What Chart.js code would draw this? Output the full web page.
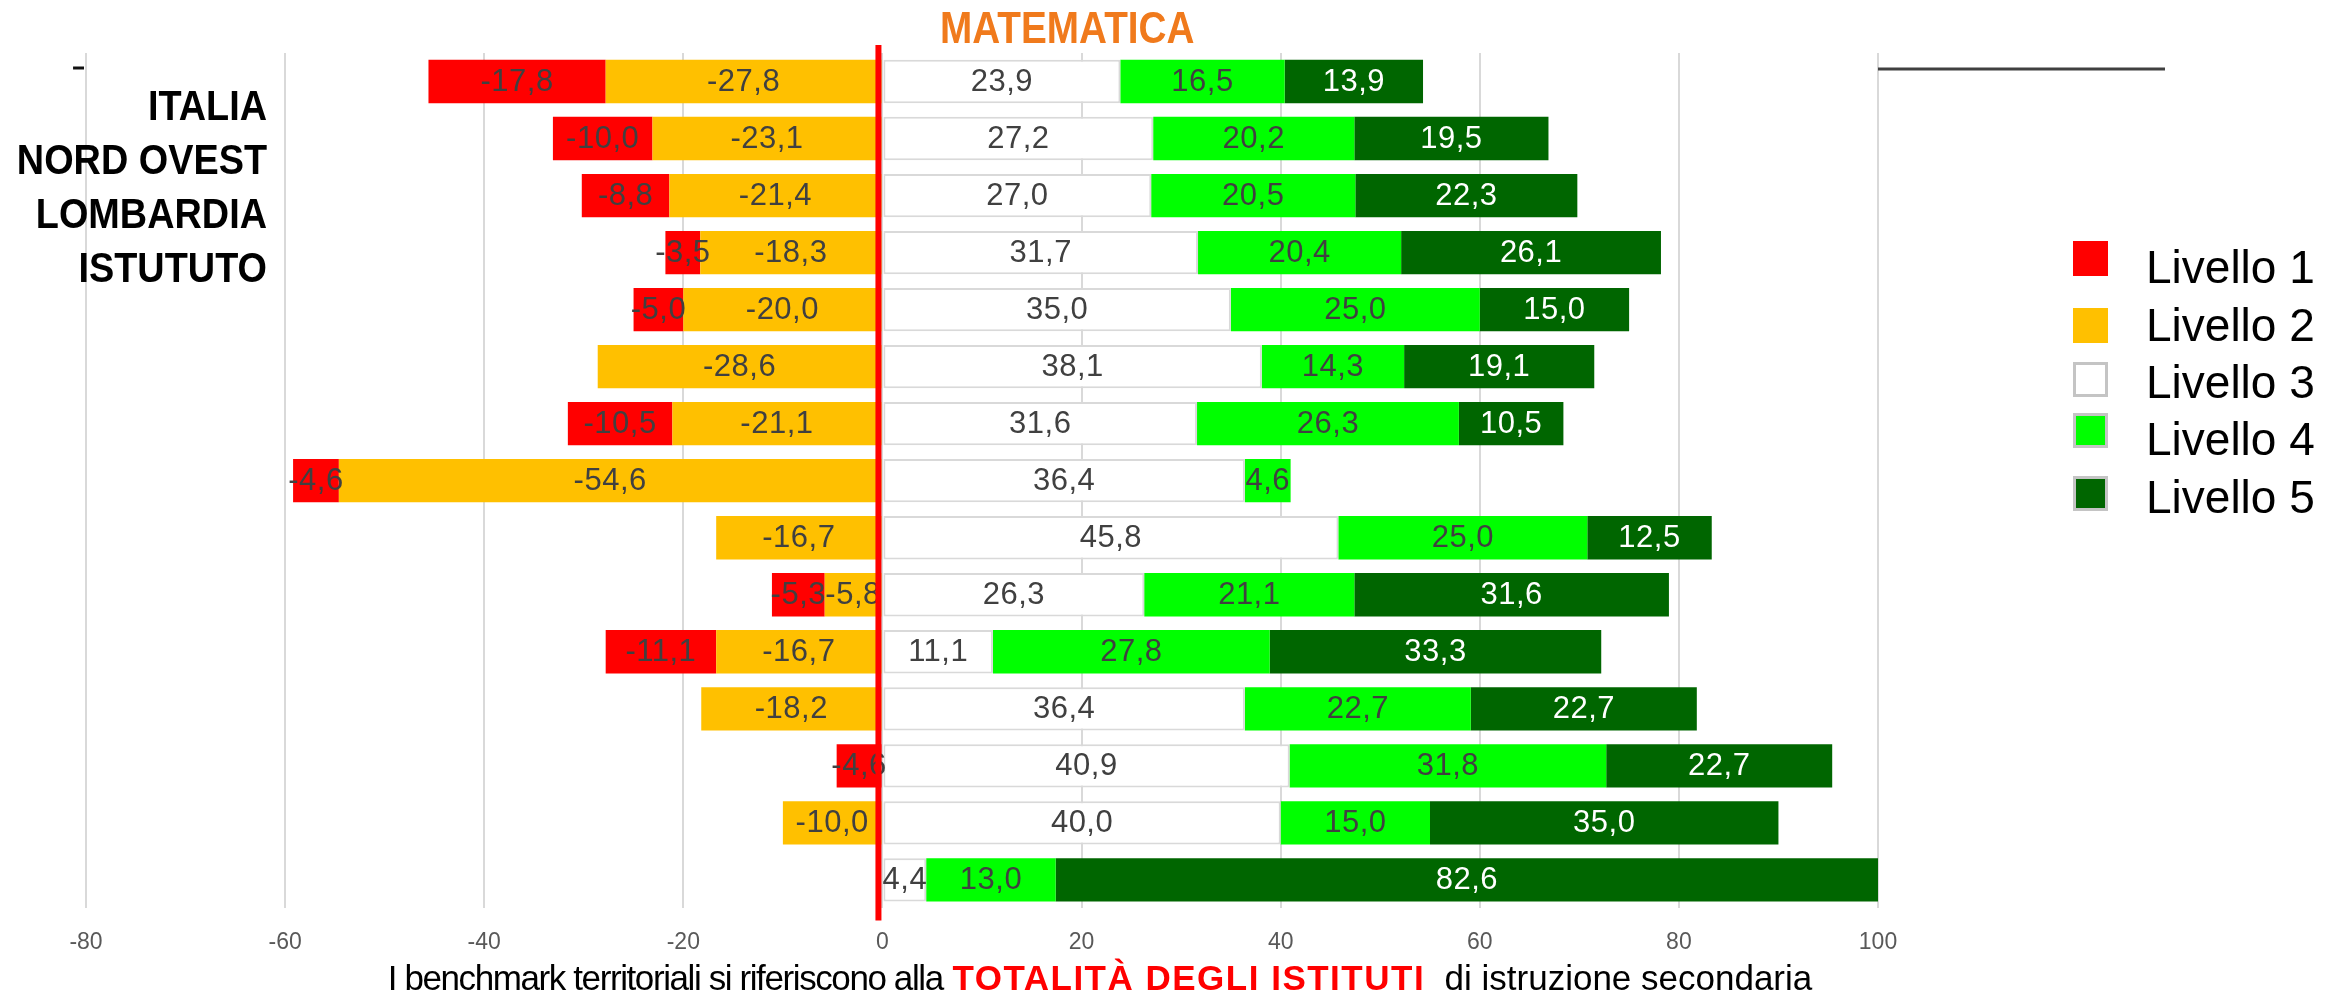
<!DOCTYPE html>
<html>
<head>
<meta charset="utf-8">
<script src="https://cdn.jsdelivr.net/npm/chart.js@4.4.1/dist/chart.umd.min.js"></script>
<style>
  body { margin: 0; background: #fff; font-family: "Liberation Sans", Arial, sans-serif; }
  #wrap { position: relative; width: 2333px; height: 996px; overflow: hidden; }
  #chart { position: absolute; left: 0; top: 0; }
  .txt { position: absolute; white-space: nowrap; line-height: 1; }
  #title { left: 940px; top: 6px; font-size: 44px; font-weight: bold; color: #f07a1c; transform: scaleX(0.88); transform-origin: left; }
  .area { left: -233px; width: 500px; text-align: right; font-size: 43px; font-weight: bold; color: #000; transform: scaleX(0.88); transform-origin: right; }
  #footer { left: 0; width: 2200px; text-align: center; top: 960px; font-size: 35px; color: #000; }
  #footer .lo { letter-spacing: -1.4px; }
  #footer .red { color: #ff0000; font-weight: bold; letter-spacing: 1.5px; }
  .leg-box { position: absolute; left: 2073px; width: 35px; height: 35px; box-sizing: border-box; }
  .leg-txt { left: 2146px; font-size: 46px; color: #000; }
</style>
</head>
<body>
<div id="wrap">
  <canvas id="chart" width="2333" height="996"></canvas>
  <div class="txt" id="title">MATEMATICA</div>
  <div class="txt area" style="top:84px">ITALIA</div>
  <div class="txt area" style="top:138px">NORD OVEST</div>
  <div class="txt area" style="top:192px">LOMBARDIA</div>
  <div class="txt area" style="top:246px">ISTUTUTO</div>
  <div id="legend"></div>
  <div class="txt" id="footer"><span class="lo">I benchmark territoriali si riferiscono alla</span> <span class="red">TOTALITÀ DEGLI ISTITUTI</span>&nbsp; di istruzione secondaria</div>
</div>
<script>
// Rows from top to bottom
const categories = ['1', '2', '3', '4', '5', '6', '7', '8', '9', '10', '11', '12', '13', '14', '15'];

const livello1 = [-17.8, -10.0, -8.8, -3.5, -5.0, 0, -10.5, -4.6, 0, -5.3, -11.1, 0, -4.6, 0, 0];
const livello2 = [-27.8, -23.1, -21.4, -18.3, -20.0, -28.6, -21.1, -54.6, -16.7, -5.8, -16.7, -18.2, 0, -10.0, 0];
const livello3 = [23.9, 27.2, 27.0, 31.7, 35.0, 38.1, 31.6, 36.4, 45.8, 26.3, 11.1, 36.4, 40.9, 40.0, 4.4];
const livello4 = [16.5, 20.2, 20.5, 20.4, 25.0, 14.3, 26.3, 4.6, 25.0, 21.1, 27.8, 22.7, 31.8, 15.0, 13.0];
const livello5 = [13.9, 19.5, 22.3, 26.1, 15.0, 19.1, 10.5, 0, 12.5, 31.6, 33.3, 22.7, 22.7, 35.0, 82.6];

const seriesNames = ['Livello 1', 'Livello 2', 'Livello 3', 'Livello 4', 'Livello 5'];
const xTicks = [-80, -60, -40, -20, 0, 20, 40, 60, 80, 100];

const colors = {
  'Livello 1': '#ff0000',
  'Livello 2': '#ffc000',
  'Livello 3': '#ffffff',
  'Livello 4': '#00ff00',
  'Livello 5': '#006600'
};

// HTML legend
const legendTops = [241, 308, 362, 413, 476];
const legendTextTops = [244, 302, 359, 416, 474];
const legendEl = document.getElementById('legend');
seriesNames.forEach((name, i) => {
  const box = document.createElement('div');
  box.className = 'leg-box';
  box.style.top = legendTops[i] + 'px';
  box.style.background = colors[name];
  if (i >= 2) box.style.border = '3px solid #c4c4c4';
  legendEl.appendChild(box);
  const t = document.createElement('div');
  t.className = 'txt leg-txt';
  t.style.top = legendTextTops[i] + 'px';
  t.textContent = name;
  legendEl.appendChild(t);
});

// value labels inside each segment
const valueLabels = {
  id: 'valueLabels',
  afterDatasetsDraw(chart) {
    const ctx = chart.ctx;
    ctx.save();
    ctx.font = '31px "Liberation Sans", Arial, sans-serif';
    ctx.letterSpacing = '0.5px';
    ctx.textAlign = 'center';
    ctx.textBaseline = 'middle';
    chart.data.datasets.forEach((ds, i) => {
      chart.getDatasetMeta(i).data.forEach((bar, j) => {
        const v = ds.data[j];
        if (!v) return;
        const p = bar.getProps(['x', 'y', 'base'], true);
        ctx.fillStyle = ds.label === 'Livello 5' ? '#ffffff' : '#404040';
        ctx.fillText(v.toFixed(1).replace('.', ','), (p.x + p.base) / 2, p.y + 1);
      });
    });
    ctx.restore();
  }
};

// red zero line + leftover axis strokes
const decorations = {
  id: 'decorations',
  afterDraw(chart) {
    const ctx = chart.ctx;
    const area = chart.chartArea;
    const xs = chart.scales.x;
    ctx.save();
    ctx.strokeStyle = '#404040';
    ctx.lineWidth = 3;
    ctx.beginPath();
    ctx.moveTo(xs.getPixelForValue(100), 69);
    ctx.lineTo(xs.getPixelForValue(100) + 287, 69);
    ctx.stroke();
    ctx.strokeStyle = '#111';
    ctx.beginPath();
    ctx.moveTo(xs.getPixelForValue(-81.3), 68);
    ctx.lineTo(xs.getPixelForValue(-80.2), 68);
    ctx.stroke();

    const x0 = xs.getPixelForValue(0) - 4;
    ctx.strokeStyle = '#ff0000';
    ctx.lineWidth = 6;
    ctx.beginPath();
    ctx.moveTo(x0, area.top - 8);
    ctx.lineTo(x0, area.bottom + 12);
    ctx.stroke();
    ctx.restore();
  }
};

function makeSet(name, data) {
  const ds = {
    label: name,
    data: data,
    backgroundColor: colors[name],
    borderWidth: 0,
    barPercentage: 0.76,
    categoryPercentage: 1
  };
  if (name === 'Livello 3') {
    ds.borderWidth = 2;
    ds.borderColor = '#d9d9d9';
    ds.borderSkipped = false;
  }
  return ds;
}

new Chart(document.getElementById('chart'), {
  type: 'bar',
  data: {
    labels: categories,
    // yellow must sit next to zero, red outside it
    datasets: [
      makeSet('Livello 2', livello2),
      makeSet('Livello 1', livello1),
      makeSet('Livello 3', livello3),
      makeSet('Livello 4', livello4),
      makeSet('Livello 5', livello5)
    ]
  },
  options: {
    indexAxis: 'y',
    responsive: false,
    animation: false,
    layout: { padding: { left: 86, right: 455, top: 53, bottom: 20 } },
    plugins: {
      legend: { display: false },
      tooltip: { enabled: false }
    },
    scales: {
      x: {
        stacked: true,
        min: xTicks[0],
        max: xTicks[xTicks.length - 1],
        afterBuildTicks: axis => { axis.ticks = xTicks.map(v => ({ value: v })); },
        grid: { color: '#d9d9d9', lineWidth: 2, drawTicks: false },
        border: { display: false },
        ticks: {
          color: '#595959',
          padding: 20,
          font: { family: '"Liberation Sans", Arial, sans-serif', size: 23 },
          callback: v => String(v)
        }
      },
      y: {
        stacked: true,
        display: false
      }
    }
  },
  plugins: [valueLabels, decorations]
});
</script>
</body>
</html>
